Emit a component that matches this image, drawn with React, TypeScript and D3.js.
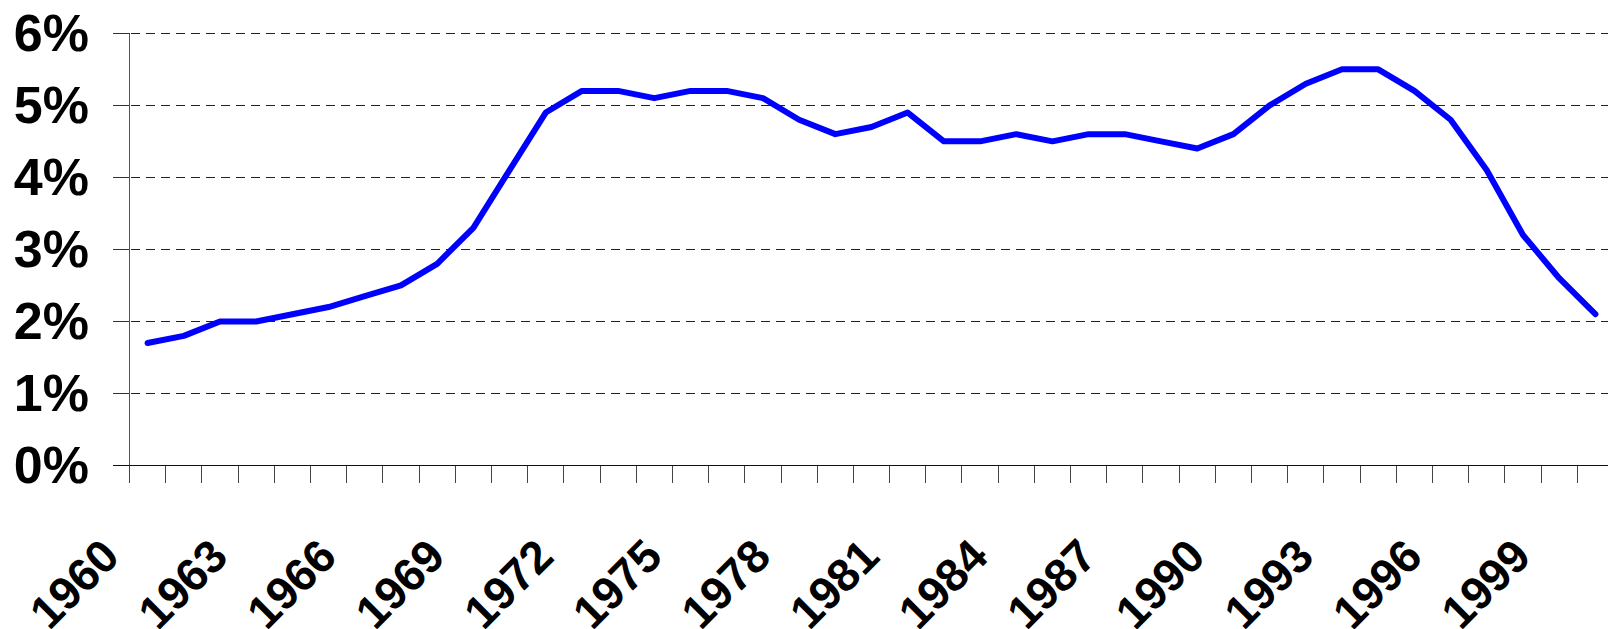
import React from "react";
import * as d3 from "d3";

const years: number[] = [
  1960, 1961, 1962, 1963, 1964, 1965, 1966, 1967, 1968, 1969,
  1970, 1971, 1972, 1973, 1974, 1975, 1976, 1977, 1978, 1979,
  1980, 1981, 1982, 1983, 1984, 1985, 1986, 1987, 1988, 1989,
  1990, 1991, 1992, 1993, 1994, 1995, 1996, 1997, 1998, 1999, 2000,
];
const values: number[] = [
  1.7, 1.8, 2.0, 2.0, 2.1, 2.2, 2.35, 2.5, 2.8, 3.3,
  4.1, 4.9, 5.2, 5.2, 5.1, 5.2, 5.2, 5.1, 4.8, 4.6,
  4.7, 4.9, 4.5, 4.5, 4.6, 4.5, 4.6, 4.6, 4.5, 4.4,
  4.6, 5.0, 5.3, 5.5, 5.5, 5.2, 4.8, 4.1, 3.2, 2.6, 2.1,
];
const yTicks: number[] = [0, 1, 2, 3, 4, 5, 6];
const labelYears: number[] = [1960, 1963, 1966, 1969, 1972, 1975, 1978, 1981, 1984, 1987, 1990, 1993, 1996, 1999];

const W = 1608;
const H = 629;
const left = 129.5;
const right = 1613.5;
const top = 33.3;
const bottom = 465.5;
const font = "'Liberation Sans', Arial, Helvetica, sans-serif";

const snap = (v: number) => Math.floor(v) + 0.5;

export default function App() {
  const x = d3.scaleBand<number>().domain(years).range([left, right]).padding(0);
  const bw = x.bandwidth();
  const y = d3.scaleLinear().domain([0, 6]).range([bottom, top]);
  const cx = (yr: number) => (x(yr) as number) + bw / 2;

  const line = d3
    .line<number>()
    .x((_, i) => cx(years[i]))
    .y((d) => y(d));

  const axisX = snap(left);
  const axisY = snap(bottom);

  return (
    <svg
      width={W}
      height={H}
      style={{ position: "absolute", left: 0, top: 0, background: "#fff", overflow: "hidden" }}
    >
      {/* gridlines */}
      {yTicks
        .filter((t) => t > 0)
        .map((t) => (
          <line
            key={"g" + t}
            x1={axisX + 1}
            x2={right}
            y1={snap(y(t))}
            y2={snap(y(t))}
            stroke="#222"
            strokeWidth={1}
            strokeDasharray="9,6"
            shapeRendering="crispEdges"
          />
        ))}
      {/* y ticks */}
      {yTicks.map((t) => (
        <line
          key={"yt" + t}
          x1={113}
          x2={axisX}
          y1={snap(y(t))}
          y2={snap(y(t))}
          stroke="#333"
          strokeWidth={1}
          shapeRendering="crispEdges"
        />
      ))}
      {/* y axis */}
      <line x1={axisX} x2={axisX} y1={snap(top)} y2={axisY + 17} stroke="#555" strokeWidth={1} shapeRendering="crispEdges" />
      {/* x axis */}
      <line x1={113} x2={right} y1={axisY} y2={axisY} stroke="#111" strokeWidth={1} shapeRendering="crispEdges" />
      {/* x ticks */}
      {years.map((yr) => (
        <line
          key={"xt" + yr}
          x1={snap(x(yr) as number)}
          x2={snap(x(yr) as number)}
          y1={axisY}
          y2={axisY + 17}
          stroke="#444"
          strokeWidth={1}
          shapeRendering="crispEdges"
        />
      ))}
      {/* y labels */}
      {yTicks.map((t) => (
        <text
          key={"yl" + t}
          x={89}
          y={y(t)}
          dy="0.34em"
          textAnchor="end"
          fontFamily={font}
          fontWeight="bold"
          fontSize={52}
          fill="#000"
        >
          {t + "%"}
        </text>
      ))}
      {/* x labels */}
      {labelYears.map((yr) => {
        const ax = cx(yr) - 26;
        const ay = 559;
        return (
          <text
            key={"xl" + yr}
            x={ax}
            y={ay}
            transform={`rotate(-45 ${ax} ${ay})`}
            textAnchor="end"
            fontFamily={font}
            fontWeight="bold"
            fontSize={46}
            fill="#000"
          >
            {yr}
          </text>
        );
      })}
      {/* data line */}
      <path
        d={line(values) || ""}
        fill="none"
        stroke="#0000FF"
        strokeWidth={6}
        strokeLinejoin="round"
        strokeLinecap="round"
      />
    </svg>
  );
}
